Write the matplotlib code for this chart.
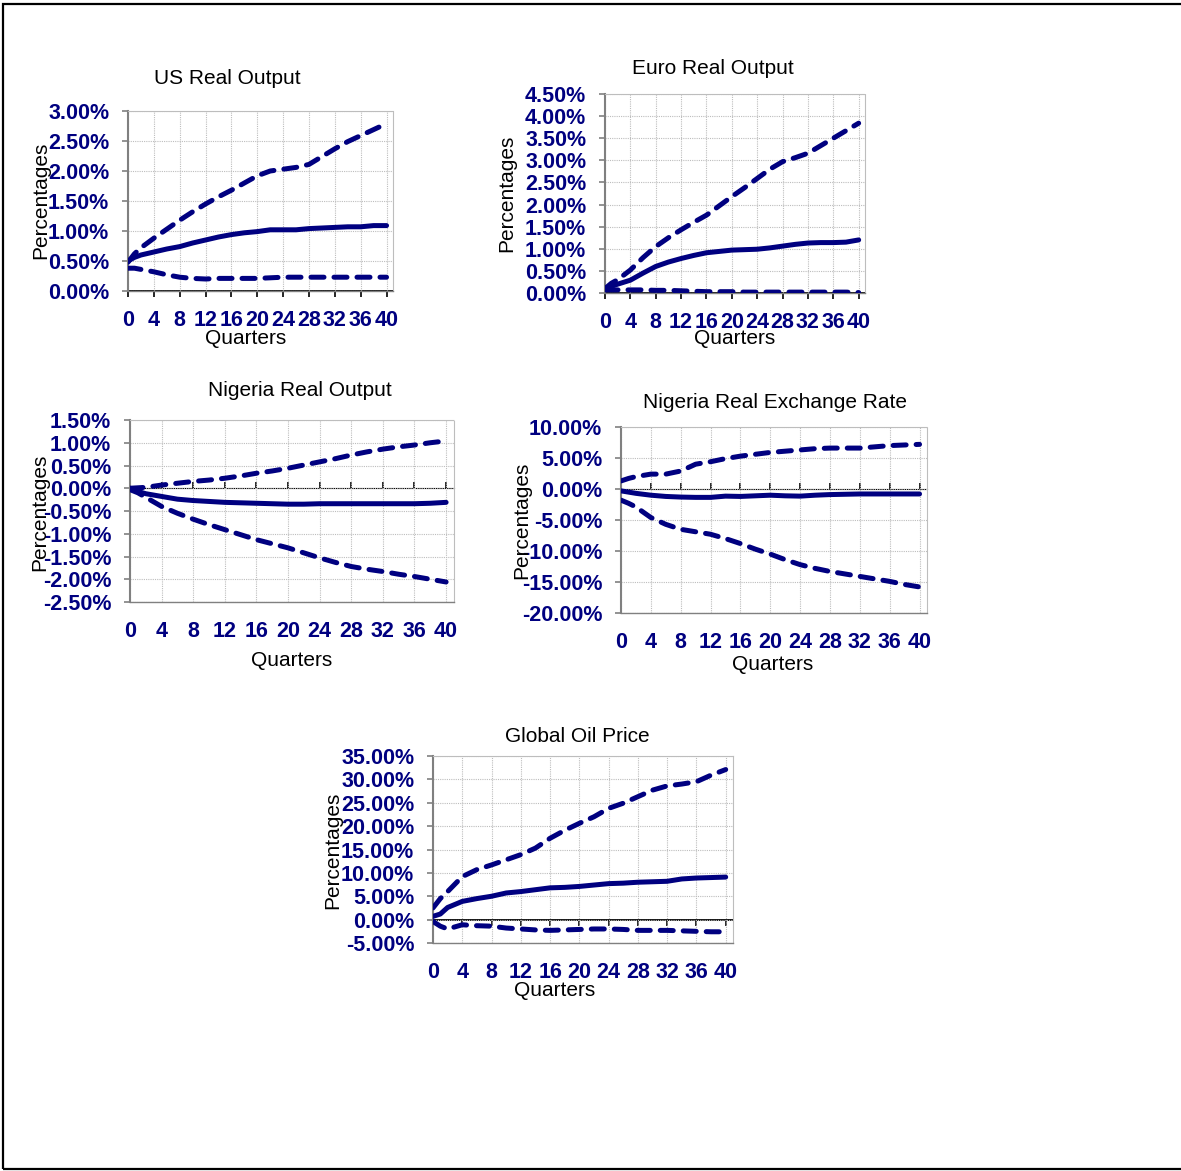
import numpy as np
import matplotlib
matplotlib.use('Agg')
from matplotlib import pyplot as plt
from matplotlib.patches import Rectangle
from matplotlib.ticker import FuncFormatter

# impulse responses (percent) with lower / upper bands, by quarter
quarters = [0, 1, 2, 4, 6, 8, 10, 12, 14, 16, 18, 20, 22, 24, 26, 28, 30, 32, 34, 36, 38, 40]

us_upper = [0.48, 0.62, 0.72, 0.88, 1.03, 1.18, 1.32, 1.45, 1.57, 1.68, 1.80, 1.92, 2.00, 2.03, 2.06, 2.11, 2.24, 2.37, 2.49, 2.59, 2.69, 2.79]
us_mid = [0.50, 0.56, 0.60, 0.65, 0.70, 0.74, 0.80, 0.85, 0.90, 0.94, 0.97, 0.99, 1.02, 1.02, 1.02, 1.04, 1.05, 1.06, 1.07, 1.07, 1.09, 1.09]
us_lower = [0.38, 0.38, 0.36, 0.32, 0.27, 0.23, 0.21, 0.20, 0.21, 0.21, 0.21, 0.21, 0.22, 0.23, 0.23, 0.23, 0.23, 0.23, 0.23, 0.23, 0.23, 0.23]

euro_upper = [0.10, 0.22, 0.30, 0.52, 0.80, 1.05, 1.25, 1.43, 1.60, 1.76, 1.97, 2.18, 2.38, 2.59, 2.80, 2.97, 3.06, 3.16, 3.33, 3.50, 3.67, 3.84]
euro_mid = [0.10, 0.15, 0.20, 0.29, 0.45, 0.60, 0.70, 0.78, 0.85, 0.91, 0.94, 0.97, 0.98, 0.99, 1.02, 1.06, 1.10, 1.13, 1.14, 1.14, 1.15, 1.20]
euro_lower = [0.07, 0.07, 0.07, 0.07, 0.07, 0.06, 0.06, 0.05, 0.04, 0.03, 0.03, 0.03, 0.02, 0.02, 0.02, 0.02, 0.02, 0.02, 0.02, 0.02, 0.02, 0.01]

ngo_upper = [0.00, 0.01, 0.02, 0.07, 0.11, 0.15, 0.18, 0.22, 0.27, 0.33, 0.38, 0.44, 0.51, 0.58, 0.65, 0.73, 0.80, 0.86, 0.91, 0.95, 1.00, 1.04]
ngo_mid = [0.00, -0.07, -0.12, -0.18, -0.24, -0.27, -0.29, -0.31, -0.32, -0.33, -0.34, -0.35, -0.35, -0.34, -0.34, -0.34, -0.34, -0.34, -0.34, -0.34, -0.33, -0.31]
ngo_lower = [-0.03, -0.10, -0.20, -0.40, -0.55, -0.68, -0.80, -0.91, -1.02, -1.13, -1.22, -1.31, -1.42, -1.53, -1.63, -1.72, -1.78, -1.83, -1.89, -1.94, -2.00, -2.06]

rer_upper = [1.3, 1.7, 2.0, 2.4, 2.4, 2.9, 4.0, 4.4, 4.9, 5.3, 5.6, 5.9, 6.1, 6.3, 6.5, 6.6, 6.6, 6.6, 6.8, 7.0, 7.1, 7.2]
rer_mid = [-0.3, -0.5, -0.7, -1.0, -1.2, -1.3, -1.35, -1.35, -1.15, -1.2, -1.1, -1.0, -1.1, -1.15, -1.0, -0.9, -0.85, -0.8, -0.8, -0.8, -0.8, -0.8]
rer_lower = [-1.8, -2.3, -2.9, -4.6, -5.7, -6.5, -6.9, -7.3, -8.0, -8.8, -9.7, -10.5, -11.4, -12.2, -12.8, -13.3, -13.7, -14.1, -14.5, -14.9, -15.4, -15.8]

oil_upper = [2.5, 4.5, 6.0, 9.2, 10.7, 11.7, 12.8, 13.9, 15.3, 17.4, 19.1, 20.6, 22.0, 23.8, 24.9, 26.3, 27.7, 28.6, 29.0, 29.5, 30.9, 32.1]
oil_mid = [0.7, 1.2, 2.6, 3.9, 4.5, 5.0, 5.7, 6.0, 6.4, 6.8, 6.9, 7.1, 7.4, 7.7, 7.8, 8.0, 8.1, 8.2, 8.7, 8.9, 9.0, 9.1]
oil_lower = [-0.4, -1.4, -2.0, -1.1, -1.3, -1.4, -1.8, -2.0, -2.2, -2.3, -2.2, -2.1, -2.0, -2.0, -2.1, -2.3, -2.3, -2.3, -2.4, -2.5, -2.6, -2.6]

titles = ['US Real Output', 'Euro Real Output', 'Nigeria Real Output',
          'Nigeria Real Exchange Rate', 'Global Oil Price']
series = [(us_upper, us_mid, us_lower), (euro_upper, euro_mid, euro_lower),
          (ngo_upper, ngo_mid, ngo_lower), (rer_upper, rer_mid, rer_lower),
          (oil_upper, oil_mid, oil_lower)]
y_ticks = [np.arange(0, 3.01, 0.5), np.arange(0, 4.51, 0.5), np.arange(-2.5, 1.51, 0.5),
           np.arange(-20, 10.1, 5), np.arange(-5, 35.1, 5)]
x_ticks = list(range(0, 41, 4))

# layout in pixels: axes box (left, right, top, bottom), title, xlabel, ylabel centres
W, H = 1181, 1171
boxes = [(128, 393, 111, 291), (605, 865, 94, 293), (130, 454, 420, 602),
         (621, 927, 427, 613), (433, 733, 756, 943)]
title_pos = [(227, 78), (713, 68), (300, 390), (775, 403), (577, 737)]
xlabel_pos = [(246, 339), (735, 338), (292, 660), (773, 665), (555, 990)]
ylabel_pos = [(41, 200), (507, 193), (40, 512), (522, 520), (333, 850)]

navy = '#000080'
plt.rcParams['font.family'] = ['Liberation Sans', 'DejaVu Sans']

fig = plt.figure(figsize=(W / 100, H / 100), dpi=100)

def fx(x):
    return x / W

def fy(y):
    return 1 - y / H

pct = FuncFormatter(lambda v, p: '{:.2f}%'.format(v))

for i in range(5):
    l, r, t, b = boxes[i]
    ax = fig.add_axes([fx(l), fy(b), (r - l) / W, (b - t) / H])
    up, mid, lo = series[i]
    ax.plot(quarters, mid, color=navy, lw=3.6, solid_capstyle='round',
            solid_joinstyle='round', zorder=5)
    for band in (up, lo):
        ax.plot(quarters, band, color=navy, lw=3.6, dashes=(2.6, 2.0),
                dash_capstyle='round', dash_joinstyle='round', zorder=5)
    ax.set_xlim(0, 41)
    yt = y_ticks[i]
    ax.set_ylim(yt[0], yt[-1])
    ax.set_yticks(yt)
    ax.yaxis.set_major_formatter(pct)
    ax.set_xticks(x_ticks)
    ax.grid(True, color='#bdbdbd', lw=0.8, linestyle=(0, (1, 1)))
    ax.tick_params(axis='y', direction='out', length=4.5, width=1.2, color='#808080',
                   pad=9, labelsize=15.5, labelcolor=navy)
    ax.tick_params(axis='x', length=0, pad=14, labelsize=15.5, labelcolor=navy)
    for lab in ax.get_xticklabels() + ax.get_yticklabels():
        lab.set_fontweight('bold')
    ax.spines['left'].set_color('#808080')
    ax.spines['left'].set_linewidth(1.5)
    ax.spines['bottom'].set_color('#808080')
    ax.spines['bottom'].set_linewidth(1.0)
    for s in ('top', 'right'):
        ax.spines[s].set_color('#bdbdbd')
        ax.spines[s].set_linestyle((0, (1, 1)))
        ax.spines[s].set_linewidth(0.8)

    # category axis crossing at zero, ticks only
    zero = -yt[0] / (yt[-1] - yt[0])
    sec = ax.secondary_xaxis(zero)
    sec.set_xticks(x_ticks, labels=[''] * len(x_ticks))
    sec.tick_params(direction='out', length=4, width=1.2, color='black')
    sec.spines['bottom'].set_color('black')
    sec.spines['bottom'].set_linewidth(1.3)

    fig.text(fx(title_pos[i][0]), fy(title_pos[i][1]), titles[i], fontsize=15,
             ha='center', va='center')
    fig.text(fx(xlabel_pos[i][0]), fy(xlabel_pos[i][1]), 'Quarters', fontsize=15,
             ha='center', va='center')
    fig.text(fx(ylabel_pos[i][0]), fy(ylabel_pos[i][1]), 'Percentages', fontsize=15,
             ha='center', va='center', rotation=90)

# outer frame
fig.add_artist(Rectangle((fx(3), fy(1169)), fx(1195 - 3), (1169 - 4) / H,
                         transform=fig.transFigure, fill=False, lw=1.6, ec='black'))

fig.savefig('out.png', dpi=100)
